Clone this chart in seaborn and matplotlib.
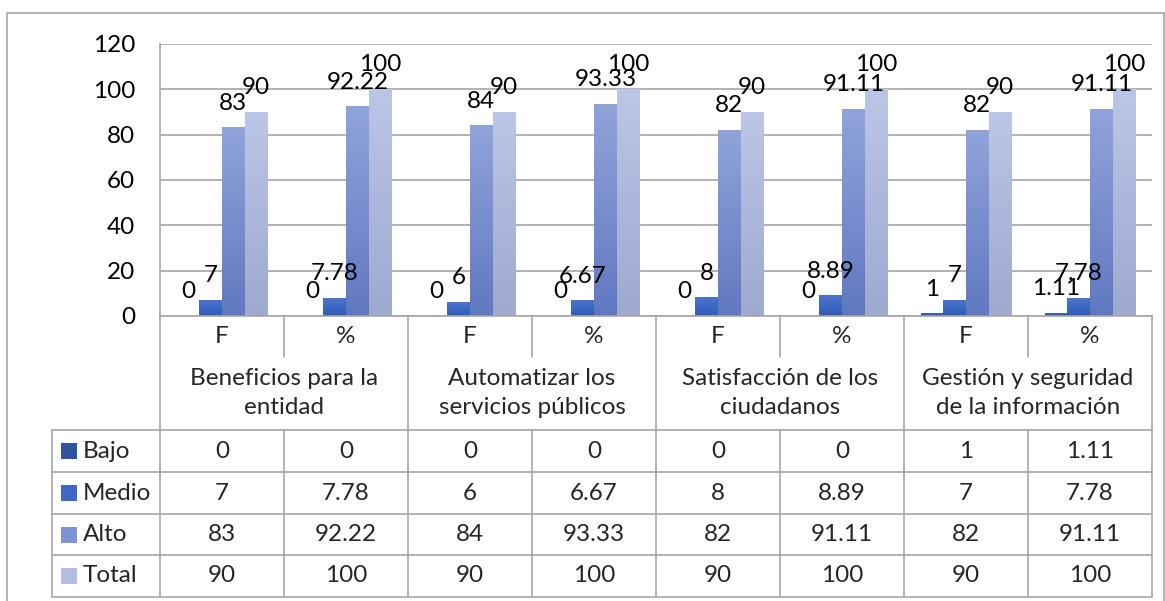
import numpy as np
import pandas as pd
import seaborn as sns
import matplotlib.pyplot as plt
from matplotlib import transforms
from matplotlib.lines import Line2D
from matplotlib.patches import Rectangle
from matplotlib.colors import to_rgb

# ============================================================
# DATA
# ============================================================
groups = ["Beneficios para la\nentidad", "Automatizar los\nservicios públicos",
          "Satisfacción de los\nciudadanos", "Gestión y seguridad\nde la información"]
measures = ["F", "%"]
levels = ["Bajo", "Medio", "Alto", "Total"]

bajo = [0, 0, 0, 0, 0, 0, 1, 1.11]
medio = [7, 7.78, 6, 6.67, 8, 8.89, 7, 7.78]
alto = [83, 92.22, 84, 93.33, 82, 91.11, 82, 91.11]
total = [90, 100, 90, 100, 90, 100, 90, 100]

yticks = [0, 20, 40, 60, 80, 100, 120]

# gradient colours per series (top, bottom)
grad_colors = {
    "Bajo": ("#4068B8", "#2A4F98"),
    "Medio": ("#4B74CC", "#2F5CB6"),
    "Alto": ("#90A3D9", "#6078C0"),
    "Total": ("#BBC6E7", "#9DA9CF"),
}
key_colors = {"Bajo": "#2F549E", "Medio": "#3F68C2", "Alto": "#7D93D3", "Total": "#B3BFE2"}
line_col = "#A6A6A6"

# ============================================================
# LONG TABLE
# ============================================================
columns = [f"{g}|{m}" for g in groups for m in measures]
series = {"Bajo": bajo, "Medio": medio, "Alto": alto, "Total": total}
rows = []
for lvl in levels:
    for col, v in zip(columns, series[lvl]):
        rows.append({"columna": col, "valor": v, "nivel": lvl})
df = pd.DataFrame(rows)

# ============================================================
# FIGURE
# ============================================================
sns.set_style("white")
plt.rcParams["font.family"] = ["Lato", "DejaVu Sans"]
FS = 17.5

W, H = 1165, 601
fig = plt.figure(figsize=(W / 100, H / 100), dpi=100)
ax = fig.add_axes([160 / W, 1 - 316 / H, 992 / W, 272 / H])

sns.barplot(data=df, x="columna", y="valor", hue="nivel", order=columns,
            hue_order=levels, palette=key_colors, width=0.73, saturation=1,
            errorbar=None, legend=False, ax=ax, linewidth=0)

# gradient fill + labels
for lvl, container in zip(levels, ax.containers):
    top, bot = (np.array(to_rgb(c)) for c in grad_colors[lvl])
    for bar, v in zip(container, series[lvl]):
        x0, w, h = bar.get_x(), bar.get_width(), bar.get_height()
        if h > 0:
            t = np.linspace(0, 1, 64)[:, None]
            img = (top * (1 - t) + bot * t)[:, None, :]
            ax.imshow(img, extent=[x0, x0 + w, 0, h], origin="upper",
                      aspect="auto", zorder=bar.get_zorder() + 0.1,
                      interpolation="bilinear")
        ax.annotate(f"{v:g}", (x0 + w / 2, h), xytext=(0, 13),
                    textcoords="offset points", ha="center", va="baseline",
                    fontsize=FS, color="black", zorder=5)

ax.set_xlim(-0.5, len(columns) - 0.5)
ax.set_ylim(0, 120)
ax.set_yticks(yticks)
ax.set_xticks([])
ax.set_xlabel("")
ax.set_ylabel("")
ax.tick_params(axis="y", length=0, pad=18, labelsize=FS, colors="black")
ax.yaxis.grid(True, color=line_col, lw=1.2)
ax.set_axisbelow(True)
for s in ["top", "right"]:
    ax.spines[s].set_visible(False)
for s in ["left", "bottom"]:
    ax.spines[s].set_color(line_col)
    ax.spines[s].set_linewidth(1.2)

# ============================================================
# DATA TABLE BELOW THE PLOT
# ============================================================
tr = transforms.blended_transform_factory(ax.transData, fig.transFigure)
fy = lambda py: 1 - py / H
px_unit = 992 / len(columns)
x_left = -0.5 - (160 - 52) / px_unit
x_right = len(columns) - 0.5


def vline(x, y0, y1):
    fig.add_artist(Line2D([x, x], [fy(y0), fy(y1)], transform=tr,
                          color=line_col, lw=1.2, clip_on=False))


def hline(y, x0, x1):
    fig.add_artist(Line2D([x0, x1], [fy(y), fy(y)], transform=tr,
                          color=line_col, lw=1.2, clip_on=False))


row_top = [430, 472, 514, 555, 597]

for i in range(len(columns) + 1):
    vline(i - 0.5, 316, 357)
for i in range(0, len(columns) + 1, 2):
    vline(i - 0.5, 357, 430)
for i in range(len(columns) + 1):
    vline(i - 0.5, 430, 597)
vline(x_left, 430, 597)
for y in row_top:
    hline(y, x_left, x_right)

# header texts
for i, col in enumerate(columns):
    fig.text(i, fy(337), col.split("|")[1], transform=tr, ha="center",
             va="center", fontsize=FS)
for j, g in enumerate(groups):
    fig.text(2 * j + 0.5, fy(393), g, transform=tr, ha="center", va="center",
             fontsize=FS, linespacing=1.45)

# value cells + row labels
for r, lvl in enumerate(levels):
    yc = (row_top[r] + row_top[r + 1]) / 2
    for i, v in enumerate(series[lvl]):
        fig.text(i, fy(yc), f"{v:g}", transform=tr, ha="center", va="center",
                 fontsize=FS)
    fig.add_artist(Rectangle((61 / W, fy(yc + 8)), 16 / W, 16 / H,
                             transform=fig.transFigure,
                             facecolor=key_colors[lvl], edgecolor="none"))
    fig.text(83 / W, fy(yc), lvl, ha="left", va="center", fontsize=FS)

# outer chart border
fig.add_artist(Rectangle((7 / W, -0.05), (1164 - 7) / W, 1.05 - 13 / H,
                         transform=fig.transFigure, fill=False,
                         edgecolor=line_col, lw=1.2, clip_on=False))

fig.savefig("out.png", dpi=100, facecolor="white")
